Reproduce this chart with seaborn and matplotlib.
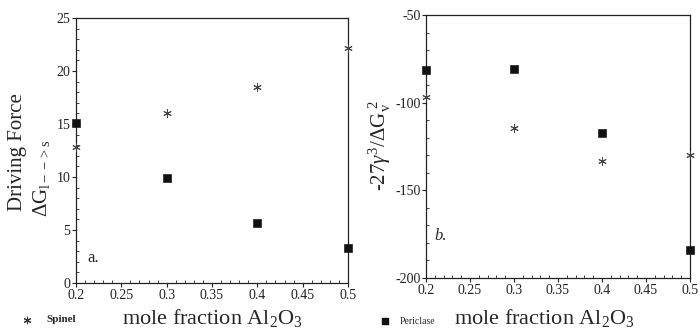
import matplotlib
matplotlib.use("Agg")
import matplotlib.pyplot as plt
import seaborn as sns
import pandas as pd
from matplotlib.ticker import MultipleLocator

x_vals = [0.2, 0.3, 0.4, 0.5]
spinel_force = [12.8, 16.0, 18.5, 22.2]
periclase_force = [15.1, 9.9, 5.7, 3.3]
spinel_ratio = [-96.8, -114.5, -133.3, -129.9]
periclase_ratio = [-81.4, -81.0, -117.3, -184.0]
x_ticks = [0.2, 0.25, 0.3, 0.35, 0.4, 0.45, 0.5]
x_tick_labels = ["0.2", "0.25", "0.3", "0.35", "0.4", "0.45", "0.5"]

sns.set_style("white")
plt.rcParams['font.family'] = ['Liberation Serif', 'DejaVu Serif']
plt.rcParams['mathtext.fontset'] = 'custom'
plt.rcParams['mathtext.rm'] = 'Liberation Serif'
plt.rcParams['mathtext.it'] = 'Liberation Serif:italic'
plt.rcParams['axes.unicode_minus'] = False
plt.rcParams['xtick.bottom'] = True
plt.rcParams['ytick.left'] = True

H = 331.0
fig = plt.figure(figsize=(7.0, 3.31), dpi=100)
axL = fig.add_axes([76/700, 1 - 283/H, 272/700, 265/H])
axR = fig.add_axes([426/700, 1 - 278/H, 264/700, 263/H])

dfL_s = pd.DataFrame({"x": x_vals, "y": spinel_force})
dfL_p = pd.DataFrame({"x": x_vals, "y": periclase_force})
dfR_s = pd.DataFrame({"x": x_vals, "y": spinel_ratio})
dfR_p = pd.DataFrame({"x": x_vals, "y": periclase_ratio})

star = (6, 2, 0)
for ax, ds, dp in [(axL, dfL_s, dfL_p), (axR, dfR_s, dfR_p)]:
    sns.scatterplot(data=ds, x="x", y="y", ax=ax, marker=star, s=30,
                    color="#444444", linewidth=0.7, edgecolor="#444444", clip_on=False, zorder=3)
    sns.scatterplot(data=dp, x="x", y="y", ax=ax, marker="s", s=30,
                    color="#111111", edgecolor="#111111", clip_on=False, zorder=3)
    ax.set_xlim(0.2, 0.5)
    ax.set_xticks(x_ticks)
    ax.set_xticklabels(x_tick_labels)
    ax.xaxis.set_minor_locator(MultipleLocator(0.01))
    ax.tick_params(axis='both', which='major', direction='out', length=3, width=0.8,
                   labelsize=10, pad=1, colors="#222222", bottom=True, left=True)
    ax.tick_params(axis='both', which='minor', direction='in', length=2, width=0.6,
                   colors="#222222", bottom=True, left=True)
    for sp in ax.spines.values():
        sp.set_color("#222222")
        sp.set_linewidth(0.9)
    ax.set_xlabel("")
    ax.set_ylabel("")

axL.set_ylim(0, 25)
axL.set_yticks([0, 5, 10, 15, 20, 25])
axL.yaxis.set_minor_locator(MultipleLocator(1))
axR.set_ylim(-200, -50)
axR.set_yticks([-200, -150, -100, -50])
axR.yaxis.set_minor_locator(MultipleLocator(10))

axL.text(0.04, 0.095, "a.", transform=axL.transAxes, fontsize=12, ha='left', va='center')
axR.text(0.03, 0.16, "b.", transform=axR.transAxes, fontsize=12, ha='left', va='center', style='italic')

fig.text(18/700, 1 - 152/H, "Driving Force", rotation=90, fontsize=15, ha='center', va='center')
fig.text(42/700, 1 - 178/H, r"$\Delta$G$_{\mathrm{l-->s}}$", rotation=90, fontsize=15, ha='center', va='center')
fig.text(380/700, 1 - 145/H, r"-27$\gamma^3$/$\Delta$G$_\mathrm{v}^{\ 2}$", rotation=90, fontsize=15, ha='center', va='center')

fig.text(122/700, 1 - 318/H, r"mole fraction Al$_2$O$_3$", fontsize=16, ha='left', va='center')
fig.text(454/700, 1 - 318/H, r"mole fraction Al$_2$O$_3$", fontsize=16, ha='left', va='center')

axL.scatter([27/700], [1 - 320/H], transform=fig.transFigure, marker=star, s=22, color="#333333", linewidth=0.8, clip_on=False)
fig.text(46/700, 1 - 320/H, "Spinel", fontsize=8, fontweight='bold', ha='left', va='center')
axR.scatter([385/700], [1 - 321/H], transform=fig.transFigure, marker="s", s=16, color="#111111", clip_on=False)
fig.text(400/700, 1 - 321/H, "Periclase", fontsize=7, ha='left', va='center')

fig.savefig("out.png", dpi=100)
